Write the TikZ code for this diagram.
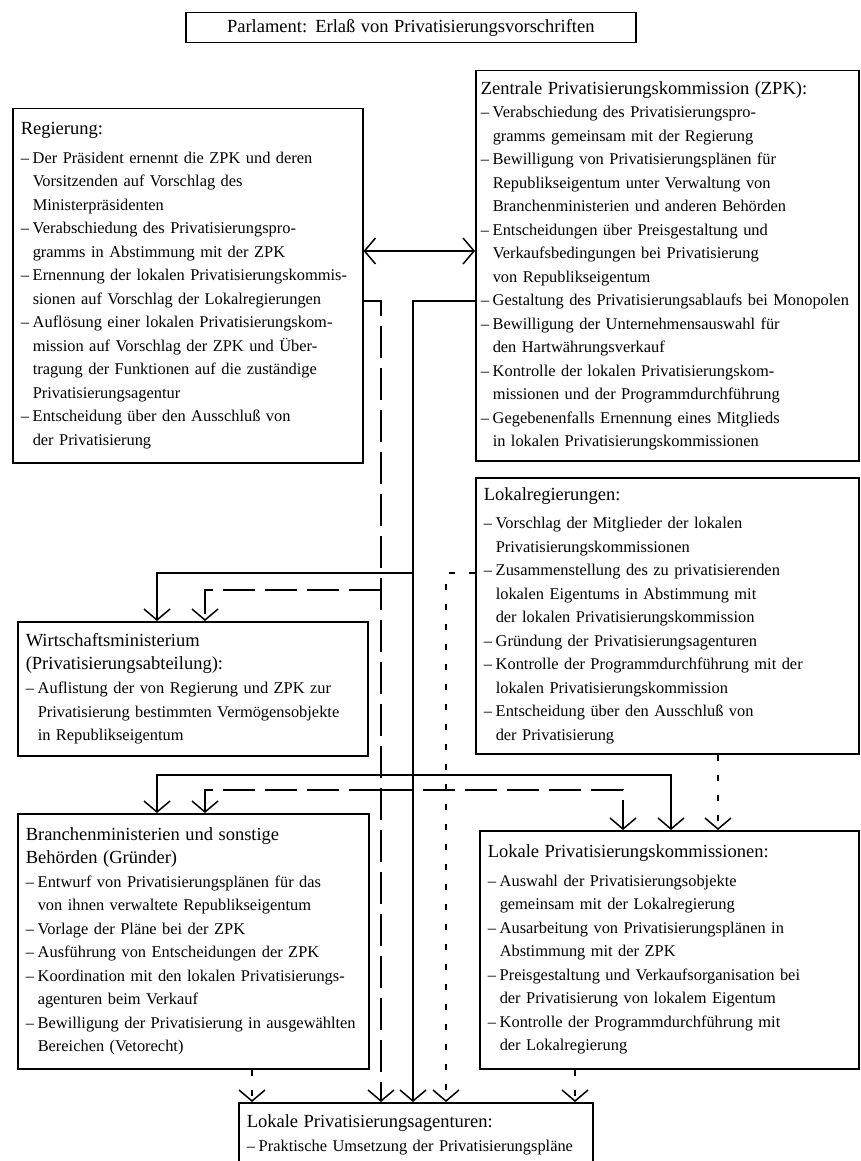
\documentclass[tikz,border=0pt]{standalone}
\usepackage{fontspec}
\setmainfont{Liberation Serif}
\usetikzlibrary{arrows.meta}
\newcommand{\pkt}{\makebox[12pt][l]{--}}
\newcommand{\wtr}{\hspace*{12pt}}
\newcommand{\titel}[1]{{\fontsize{18.5}{23.5}\selectfont #1}}
\tikzset{amt/.style = {draw, line width = 1.5pt, anchor = north west, align = left, inner xsep = 8pt, inner ysep = 0pt, font = \fontsize{16.4}{23.5}\selectfont}}
\tikzset{link/.style = {line width = 1.5pt, > = {Straight Barb[length = 11pt, width = 26pt]}}}
\tikzset{dlink/.style = {link, dash pattern = on 32pt off 10pt}}
\tikzset{plink/.style = {link, dash pattern = on 6pt off 14pt}}

\begin{document}
\begin{tikzpicture}[x = 1pt, y = -1pt]
\useasboundingbox (0,0) rectangle (860,1161);

\node[amt, align = center, text width = 434pt, minimum height = 30pt] (parl) at (185,12) {\titel{Parlament: Erlaß von Privatisierungsvorschriften}};

\node[amt, text width = 334pt, minimum height = 354pt] (reg) at (12,108) {\titel{Regierung:}\\[5pt]
\pkt Der Präsident ernennt die ZPK und deren\\
\wtr Vorsitzenden auf Vorschlag des\\
\wtr Ministerpräsidenten\\
\pkt Verabschiedung des Privatisierungspro-\\
\wtr gramms in Abstimmung mit der ZPK\\
\pkt Ernennung der lokalen Privatisierungskommis-\\
\wtr sionen auf Vorschlag der Lokalregierungen\\
\pkt Auflösung einer lokalen Privatisierungskom-\\
\wtr mission auf Vorschlag der ZPK und Über-\\
\wtr tragung der Funktionen auf die zuständige\\
\wtr Privatisierungsagentur\\
\pkt Entscheidung über den Ausschluß von\\
\wtr der Privatisierung};

\node[amt, inner xsep = 5pt, text width = 373pt, minimum height = 390pt] (zpk) at (475,70) {\titel{Zentrale Privatisierungskommission (ZPK):}\\
\pkt Verabschiedung des Privatisierungspro-\\
\wtr gramms gemeinsam mit der Regierung\\
\pkt Bewilligung von Privatisierungsplänen für\\
\wtr Republikseigentum unter Verwaltung von\\
\wtr Branchenministerien und anderen Behörden\\
\pkt Entscheidungen über Preisgestaltung und\\
\wtr Verkaufsbedingungen bei Privatisierung\\
\wtr von Republikseigentum\\
\pkt\mbox{Gestaltung des Privatisierungsablaufs bei Monopolen}\\
\pkt Bewilligung der Unternehmensauswahl für\\
\wtr den Hartwährungsverkauf\\
\pkt Kontrolle der lokalen Privatisierungskom-\\
\wtr missionen und der Programmdurchführung\\
\pkt Gegebenenfalls Ernennung eines Mitglieds\\
\wtr in lokalen Privatisierungskommissionen};

\node[amt, text width = 367pt, minimum height = 276pt] (lreg) at (475,477) {\titel{Lokalregierungen:}\\[5pt]
\pkt Vorschlag der Mitglieder der lokalen\\
\wtr Privatisierungskommissionen\\
\pkt Zusammenstellung des zu privatisierenden\\
\wtr lokalen Eigentums in Abstimmung mit\\
\wtr der lokalen Privatisierungskommission\\
\pkt Gründung der Privatisierungsagenturen\\
\pkt Kontrolle der Programmdurchführung mit der\\
\wtr lokalen Privatisierungskommission\\
\pkt Entscheidung über den Ausschluß von\\
\wtr der Privatisierung};

\node[amt, text width = 334pt, minimum height = 134pt] (wm) at (17,621) {\titel{Wirtschaftsministerium}\\
\titel{(Privatisierungsabteilung):}\\
\pkt Auflistung der von Regierung und ZPK zur\\
\wtr Privatisierung bestimmten Vermögensobjekte\\
\wtr in Republikseigentum};

\node[amt, text width = 335pt, minimum height = 255pt] (bm) at (17,813) {\titel{Branchenministerien und sonstige}\\
\titel{Behörden (Gründer)}\\
\pkt Entwurf von Privatisierungsplänen für das\\
\wtr von ihnen verwaltete Republikseigentum\\
\pkt Vorlage der Pläne bei der ZPK\\
\pkt Ausführung von Entscheidungen der ZPK\\
\pkt Koordination mit den lokalen Privatisierungs-\\
\wtr agenturen beim Verkauf\\
\pkt Bewilligung der Privatisierung in ausgewählten\\
\wtr Bereichen (Vetorecht)};

\node[amt, text width = 363pt, minimum height = 238pt] (lpk) at (479,830) {\titel{Lokale Privatisierungskommissionen:}\\[5pt]
\pkt Auswahl der Privatisierungsobjekte\\
\wtr gemeinsam mit der Lokalregierung\\
\pkt Ausarbeitung von Privatisierungsplänen in\\
\wtr Abstimmung mit der ZPK\\
\pkt Preisgestaltung und Verkaufsorganisation bei\\
\wtr der Privatisierung von lokalem Eigentum\\
\pkt Kontrolle der Programmdurchführung mit\\
\wtr der Lokalregierung};

\node[amt, text width = 338pt, minimum height = 64pt] (lpa) at (238,1102) {\titel{Lokale Privatisierungsagenturen:}\\
\pkt Praktische Umsetzung der Privatisierungspläne};

% Knickpunkte
\coordinate (h1) at (0,251);
\coordinate (s1) at (413,301);
\coordinate (s2) at (413,573);
\coordinate (s3) at (413,775);
\coordinate (d1) at (381,301);
\coordinate (d2) at (381,590);
\coordinate (d3) at (381,790);
\coordinate (p1) at (446,573);
\coordinate (xl) at (157,0);
\coordinate (xm) at (205,0);
\coordinate (xq) at (623,0);
\coordinate (xr) at (671,0);
\coordinate (xp) at (718,0);
\coordinate (xa) at (252,0);
\coordinate (xb) at (575,0);

\draw[link, <->] (reg.east |- h1) -- (zpk.west |- h1);

\draw[link, ->] (zpk.west |- s1) -- (s1) -- (lpa.north -| s1);
\draw[link, ->] (s2) -- (s2 -| xl) -- (wm.north -| xl);
\draw[link, ->] (s3) -- (s3 -| xl) -- (bm.north -| xl);
\draw[link, ->] (s3) -- (s3 -| xr) -- (lpk.north -| xr);

\draw[dlink, ->] (reg.east |- d1) -- (d1) -- (lpa.north -| d1);
\draw[dlink, ->] (d2) -- (d2 -| xm) -- (wm.north -| xm);
\draw[dlink, ->] (d3) -- (d3 -| xm) -- (bm.north -| xm);
\draw[dlink, ->] (d3) -- (d3 -| xq) -- (lpk.north -| xq);

\draw[plink, ->] (lreg.west |- p1) -- (p1) -- (lpa.north -| p1);
\draw[plink, ->] (lreg.south -| xp) -- (lpk.north -| xp);
\draw[plink, ->] (bm.south -| xa) -- (lpa.north -| xa);
\draw[plink, ->] (lpk.south -| xb) -- (lpa.north -| xb);
\end{tikzpicture}
\end{document}
